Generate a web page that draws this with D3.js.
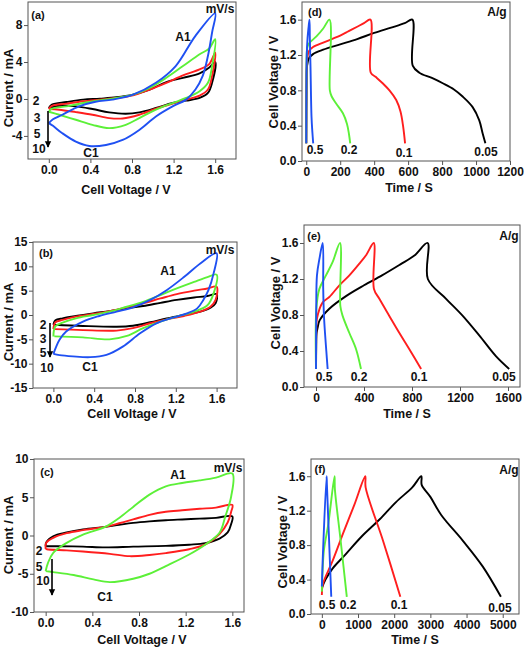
<!DOCTYPE html>
<html><head><meta charset="utf-8">
<script src="https://cdn.jsdelivr.net/npm/d3@7"></script>
<style>
body{margin:0;background:#fff}
svg{display:block}
text{font-family:'Liberation Sans',Arial,Helvetica,sans-serif;font-weight:bold;fill:#111}
</style>
</head><body>
<svg id="chart" width="524" height="647"></svg>
<script>
// ---------------- DATA ----------------
// Cyclic voltammetry (Cell Voltage V, Current mA), closed loops
const cvA_black = [[0,-0.98],[0.03,-0.6],[0.17,-0.33],[0.33,-0.07],[0.49,0.04],[0.65,0.18],[0.81,0.47],[0.97,1.02],[1.13,1.82],[1.29,2.29],[1.45,2.76],[1.54,3.38],[1.6,4.0],[1.57,1.75],[1.53,0.65],[1.45,0.11],[1.32,-0.18],[1.19,-0.44],[1.03,-0.98],[0.87,-1.45],[0.74,-1.6],[0.58,-1.45],[0.42,-1.09],[0.26,-0.8],[0.1,-0.73],[0,-0.98]];
const cvA_red = [[0,-1.09],[0.03,-0.75],[0.17,-0.51],[0.33,-0.25],[0.49,-0.07],[0.65,0.11],[0.81,0.4],[0.97,1.02],[1.13,1.75],[1.29,2.55],[1.45,3.2],[1.54,3.75],[1.6,5.02],[1.57,2.47],[1.53,1.02],[1.45,0.36],[1.32,-0.07],[1.19,-0.51],[1.03,-1.05],[0.87,-1.71],[0.71,-2.11],[0.58,-2.07],[0.42,-1.71],[0.26,-1.42],[0.1,-1.16],[0,-1.09]];
const cvA_green = [[0,-1.38],[0.03,-1.05],[0.17,-0.8],[0.33,-0.44],[0.49,-0.15],[0.65,0.11],[0.81,0.47],[0.97,1.2],[1.13,2.29],[1.29,3.56],[1.45,4.84],[1.54,5.45],[1.6,6.47],[1.57,3.56],[1.53,1.75],[1.45,0.84],[1.32,0.11],[1.19,-0.44],[1.03,-1.16],[0.87,-2.07],[0.74,-2.8],[0.58,-3.16],[0.42,-2.8],[0.26,-2.25],[0.1,-1.71],[0,-1.38]];
const cvA_blue = [[0,-2.62],[0.04,-2.2],[0.13,-1.71],[0.29,-0.8],[0.45,-0.3],[0.61,-0.07],[0.81,0.47],[1.03,1.75],[1.22,3.56],[1.41,6.84],[1.6,9.27],[1.57,7.2],[1.53,4.65],[1.48,2.5],[1.41,1.02],[1.32,-0.07],[1.19,-0.8],[1.03,-1.89],[0.87,-3.35],[0.71,-4.44],[0.55,-4.98],[0.39,-5.09],[0.26,-4.62],[0.13,-3.71],[0.04,-2.91],[0,-2.62]];

const cvB_black = [[0,-2.0],[0.005,-1.6],[0.02,-1.1],[0.09,-0.68],[0.22,-0.2],[0.39,0.34],[0.55,0.8],[0.72,1.36],[0.88,1.84],[1.05,2.5],[1.21,3.1],[1.38,3.6],[1.51,3.9],[1.6,4.3],[1.59,2.4],[1.54,1.5],[1.44,0.7],[1.28,0],[1.11,-0.7],[0.95,-1.5],[0.78,-2.2],[0.62,-2.4],[0.29,-2.25],[0.01,-2.0]];
const cvB_red = [[0,-2.9],[0.005,-2.2],[0.02,-1.5],[0.09,-1.0],[0.22,-0.34],[0.39,0.2],[0.55,0.8],[0.72,1.57],[0.88,2.4],[1.05,3.4],[1.21,4.3],[1.38,5.0],[1.51,5.45],[1.6,5.8],[1.59,3.1],[1.54,1.7],[1.44,0.7],[1.28,-0.2],[1.11,-0.9],[0.95,-1.7],[0.78,-2.7],[0.62,-3.2],[0.29,-3.1],[0.01,-2.9]];
const cvB_green = [[0,-4.4],[0.005,-3.2],[0.02,-2.3],[0.09,-1.57],[0.22,-0.68],[0.39,0],[0.55,0.68],[0.72,1.7],[0.88,2.7],[1.05,4.1],[1.21,5.45],[1.38,6.8],[1.51,7.8],[1.6,8.3],[1.57,4.4],[1.51,2.0],[1.38,0.7],[1.21,-0.34],[1.05,-1.36],[0.88,-2.7],[0.72,-4.3],[0.55,-5.0],[0.29,-4.6],[0.01,-4.4]];
const cvB_blue = [[0,-8.0],[0.06,-5.1],[0.125,-3.4],[0.29,-1.36],[0.45,-0.2],[0.62,0.7],[0.78,1.57],[0.95,3.1],[1.11,5.1],[1.28,7.8],[1.44,10.6],[1.6,12.7],[1.57,8.5],[1.52,5.1],[1.47,3.1],[1.41,1.36],[1.31,0.34],[1.18,-0.5],[1.01,-1.7],[0.85,-3.75],[0.68,-6.5],[0.52,-8.2],[0.36,-8.66],[0.19,-8.5],[0.06,-8.25],[0,-8.0]];

const cvC_black = [[0,-1.4],[0.005,-0.9],[0.065,-0.1],[0.18,0.4],[0.32,0.8],[0.51,1.13],[0.63,1.4],[0.75,1.65],[0.89,1.85],[1.03,2.0],[1.17,2.1],[1.32,2.2],[1.46,2.3],[1.6,2.5],[1.59,1.5],[1.56,0.4],[1.49,-0.4],[1.37,-1.0],[1.23,-1.2],[1.03,-1.35],[0.75,-1.45],[0.51,-1.55],[0.32,-1.45],[0.1,-1.4],[0,-1.4]];
const cvC_red = [[0,-1.74],[0.005,-0.96],[0.065,-0.3],[0.18,0.3],[0.32,0.7],[0.51,1.13],[0.63,1.6],[0.75,2.1],[0.89,2.7],[1.03,3.1],[1.17,3.3],[1.32,3.5],[1.46,3.65],[1.6,4.0],[1.59,3.1],[1.56,1.7],[1.49,0.2],[1.37,-1.17],[1.23,-1.8],[1.03,-2.3],[0.89,-2.55],[0.72,-2.7],[0.55,-2.4],[0.32,-2.1],[0.18,-1.95],[0.01,-1.8],[0,-1.74]];
const cvC_green = [[0,-4.65],[0.02,-3.57],[0.065,-2.26],[0.18,-0.96],[0.32,0.13],[0.51,1.13],[0.63,2.3],[0.75,3.74],[0.89,5.35],[1.03,6.43],[1.17,6.87],[1.32,7.2],[1.46,7.57],[1.6,8.1],[1.59,5.1],[1.54,2.5],[1.49,0.35],[1.37,-1.17],[1.23,-2.48],[1.03,-4.0],[0.89,-5.0],[0.75,-5.65],[0.55,-6.09],[0.41,-5.74],[0.24,-5.17],[0.065,-4.78],[0,-4.65]];

// Galvanostatic charge/discharge (Time s, Cell Voltage V)
const gcdD_black = [[0,0.2],[2,0.9],[5,1.08],[15,1.16],[40,1.21],[100,1.26],[200,1.32],[300,1.38],[400,1.45],[500,1.51],[580,1.56],[625,1.6],[627,1.08],[666,1.0],[740,0.94],[804,0.88],[870,0.81],[921,0.73],[980,0.61],[1019,0.46],[1039,0.31],[1055,0.2]];
const gcdD_red = [[0,0.2],[2,0.95],[5,1.15],[15,1.24],[40,1.29],[100,1.34],[150,1.38],[200,1.42],[250,1.47],[300,1.52],[340,1.56],[378,1.6],[380,1.0],[410,0.95],[450,0.88],[490,0.8],[530,0.69],[555,0.56],[570,0.4],[582,0.2]];
const gcdD_green = [[0,0.2],[1.5,0.9],[4,1.25],[10,1.31],[20,1.34],[60,1.41],[100,1.5],[137,1.6],[139,0.8],[150,0.73],[176,0.65],[216,0.54],[240,0.42],[252,0.3],[259,0.2]];
const gcdD_blue = [[0,0.2],[1,0.8],[3,1.2],[8,1.4],[14,1.52],[19,1.6],[21,1.4],[25,1.07],[31,0.5],[36,0.33],[41,0.2]];

const gcdE_black = [[0,0.2],[2,0.45],[5,0.6],[14,0.66],[30,0.74],[111,0.87],[250,1.01],[400,1.13],[550,1.24],[700,1.36],[820,1.46],[930,1.6],[932,1.2],[1084,0.98],[1223,0.79],[1362,0.57],[1501,0.34],[1610,0.2]];
const gcdE_red = [[0,0.2],[2,0.6],[8,0.76],[56,0.94],[111,1.0],[195,1.13],[278,1.24],[361,1.37],[420,1.47],[481,1.6],[483,1.09],[528,0.98],[611,0.79],[695,0.6],[778,0.42],[876,0.2]];
const gcdE_green = [[0,0.2],[3,0.87],[28,1.09],[83,1.24],[139,1.39],[200,1.6],[203,0.9],[222,0.79],[278,0.6],[334,0.42],[375,0.2]];
const gcdE_blue = [[0,0.2],[2,0.87],[8,1.24],[28,1.42],[56,1.6],[60,1.1],[66,0.8],[75,0.6],[86,0.4],[97,0.2]];

const gcdF_black = [[0,0.3],[100,0.4],[300,0.53],[650,0.69],[1100,0.9],[1600,1.1],[2050,1.3],[2500,1.47],[2750,1.6],[2760,1.5],[3000,1.36],[3300,1.15],[3900,0.85],[4450,0.55],[4950,0.2]];
const gcdF_red = [[0,0.22],[30,0.35],[300,0.62],[600,0.95],[900,1.27],[1200,1.6],[1210,1.47],[1700,0.84],[2170,0.2]];
const gcdF_green = [[0,0.26],[20,0.5],[60,0.75],[180,1.05],[350,1.6],[360,1.45],[520,0.85],[690,0.2]];
const gcdF_blue = [[0,0.32],[30,0.7],[130,1.6],[140,1.5],[260,0.2]];

// Ticks and labels
const cv_xTicks = [0, 0.4, 0.8, 1.2, 1.6];
const cvA_yTicks = [-4, 0, 4, 8];
const cvB_yTicks = [-15, -10, -5, 0, 5, 10, 15];
const cvC_yTicks = [-10, -5, 0, 5, 10];
const gcd_yTicks = [0, 0.4, 0.8, 1.2, 1.6];
const gcdD_xTicks = [0, 200, 400, 600, 800, 1000, 1200];
const gcdE_xTicks = [0, 400, 800, 1200, 1600];
const gcdF_xTicks = [0, 1000, 2000, 3000, 4000, 5000];
const cvAB_rates = ['2', '3', '5', '10'];
const cvC_rates = ['2', '5', '10'];
const gcd_rates = ['0.5', '0.2', '0.1', '0.05'];

// ---------------- STYLE / LAYOUT ----------------
const C = {black:'#000000', red:'#ff1e1e', green:'#5cf038', blue:'#1f50f2'};
const f1 = d => d.toFixed(1);
const fi = d => String(d);

const panels = [
  {box:{l:28,t:2,r:236,b:159}, xd:[-0.2,1.8], yd:[-6.5,10.5], xt:cv_xTicks, yt:cvA_yTicks, xf:f1, yf:fi,
   series:[[cvA_black,C.black],[cvA_red,C.red],[cvA_green,C.green],[cvA_blue,C.blue]],
   xtitle:['Cell Voltage / V',126,189], ytitle:['Current / mA',8,88],
   notes:[['(a)',38,15,11],['mV/s',220,9,12],['A1',183,37,12],['C1',91,153,12]],
   rates:cvAB_rates, ratePos:[[36,101],[37,118],[37,134],[39,149]], arrow:[48,111,147]},
  {box:{l:33,t:242,r:237,b:388}, xd:[-0.2,1.8], yd:[-15,15], xt:cv_xTicks, yt:cvB_yTicks, xf:f1, yf:fi,
   series:[[cvB_black,C.black],[cvB_red,C.red],[cvB_green,C.green],[cvB_blue,C.blue]],
   xtitle:['Cell Voltage / V',132,413], ytitle:['Current / mA',8,322],
   notes:[['(b)',46,253,11],['mV/s',220,250,12],['A1',168,271,12],['C1',90,367,12]],
   rates:cvAB_rates, ratePos:[[43,325],[43,339],[43,353],[47,368]], arrow:[50,323,357]},
  {box:{l:34,t:459,r:244,b:612}, xd:[-0.1,1.7], yd:[-10,10], xt:cv_xTicks, yt:cvC_yTicks, xf:f1, yf:fi,
   series:[[cvC_black,C.black],[cvC_red,C.red],[cvC_green,C.green]],
   xtitle:['Cell Voltage / V',142,639], ytitle:['Current / mA',8,535],
   notes:[['(c)',47,472,11],['mV/s',228,468,12],['A1',178,475,12],['C1',105,597,12]],
   rates:cvC_rates, ratePos:[[39,551],[39,567],[43,581]], arrow:[52,559,595]},
  {box:{l:302,t:2,r:510,b:161}, xd:[-25,1200], yd:[0,1.8], xt:gcdD_xTicks, yt:gcd_yTicks, xf:fi, yf:f1,
   series:[[gcdD_black,C.black],[gcdD_red,C.red],[gcdD_green,C.green],[gcdD_blue,C.blue]],
   xtitle:['Time / S',409,187], ytitle:['Cell Voltage / V',273,82],
   notes:[['(d)',315,12,11],['A/g',497,12,12]],
   rates:gcd_rates, ratePos:[[315,150],[349,150],[404,153],[486,152]]},
  {box:{l:304,t:225,r:520,b:387}, xd:[-100,1700], yd:[0,1.8], xt:gcdE_xTicks, yt:gcd_yTicks, xf:fi, yf:f1,
   series:[[gcdE_black,C.black],[gcdE_red,C.red],[gcdE_green,C.green],[gcdE_blue,C.blue]],
   xtitle:['Time / S',407,413], ytitle:['Cell Voltage / V',275,303],
   notes:[['(e)',314,236,11],['A/g',509,236,12]],
   rates:gcd_rates, ratePos:[[324,377],[359,377],[419,377],[504,377]]},
  {box:{l:311,t:459,r:519,b:614}, xd:[-300,5450], yd:[0,1.8], xt:gcdF_xTicks, yt:gcd_yTicks, xf:fi, yf:f1,
   series:[[gcdF_black,C.black],[gcdF_red,C.red],[gcdF_green,C.green],[gcdF_blue,C.blue]],
   xtitle:['Time / S',415,639.5], ytitle:['Cell Voltage / V',282,542],
   notes:[['(f)',320,469,11],['A/g',509,470,12]],
   rates:gcd_rates, ratePos:[[327,605],[348,605],[399,605],[500,608]]}
];

const svg = d3.select('#chart');
const defs = svg.append('defs');
defs.append('marker').attr('id','arrowHead').attr('viewBox','0 0 10 10').attr('refX',9).attr('refY',5)
  .attr('markerWidth',4).attr('markerHeight',5).attr('orient','auto')
  .append('path').attr('d','M0,0 L10,5 L0,10 Z').attr('fill','#000');

function txt(g, s, x, y, size, anchor) {
  return g.append('text').attr('x',x).attr('y',y).attr('dy','0.36em')
    .attr('text-anchor',anchor||'middle').attr('font-size',size).text(s);
}

panels.forEach(p => {
  const g = svg.append('g');
  const x = d3.scaleLinear().domain(p.xd).range([p.box.l, p.box.r]);
  const y = d3.scaleLinear().domain(p.yd).range([p.box.b, p.box.t]);
  const line = d3.line().x(d => x(d[0])).y(d => y(d[1])).curve(d3.curveCatmullRom.alpha(0.5));

  p.series.forEach(([vals, col]) => {
    g.append('path').attr('d', line(vals)).attr('fill','none')
      .attr('stroke', col).attr('stroke-width', 1.9).attr('stroke-linejoin','round');
  });

  g.append('rect').attr('x',p.box.l).attr('y',p.box.t)
    .attr('width',p.box.r-p.box.l).attr('height',p.box.b-p.box.t)
    .attr('fill','none').attr('stroke','#555').attr('stroke-width',1);

  const xa = g.append('g').attr('transform',`translate(0,${p.box.b})`)
    .call(d3.axisBottom(x).tickValues(p.xt).tickFormat(p.xf).tickSizeInner(4).tickSizeOuter(0).tickPadding(2));
  const ya = g.append('g').attr('transform',`translate(${p.box.l},0)`)
    .call(d3.axisLeft(y).tickValues(p.yt).tickFormat(p.yf).tickSizeInner(4).tickSizeOuter(0).tickPadding(1.5));
  [xa, ya].forEach(a => {
    a.select('.domain').remove();
    a.attr('font-family', null).attr('font-size', null);
    a.selectAll('line').attr('stroke','#555');
    a.selectAll('text').attr('font-size', 12).attr('fill','#111');
  });

  txt(g, p.xtitle[0], p.xtitle[1], p.xtitle[2], 12.5);
  g.append('text').attr('transform',`translate(${p.ytitle[1]},${p.ytitle[2]}) rotate(-90)`)
    .attr('dy','0.36em').attr('text-anchor','middle').attr('font-size',13).text(p.ytitle[0]);

  p.notes.forEach(n => txt(g, n[0], n[1], n[2], n[3]));
  p.rates.forEach((r, i) => txt(g, r, p.ratePos[i][0], p.ratePos[i][1], 12));
  if (p.arrow) {
    g.append('line').attr('x1',p.arrow[0]).attr('x2',p.arrow[0]).attr('y1',p.arrow[1]).attr('y2',p.arrow[2])
      .attr('stroke','#000').attr('stroke-width',1.6).attr('marker-end','url(#arrowHead)');
  }
});
</script>
</body></html>
